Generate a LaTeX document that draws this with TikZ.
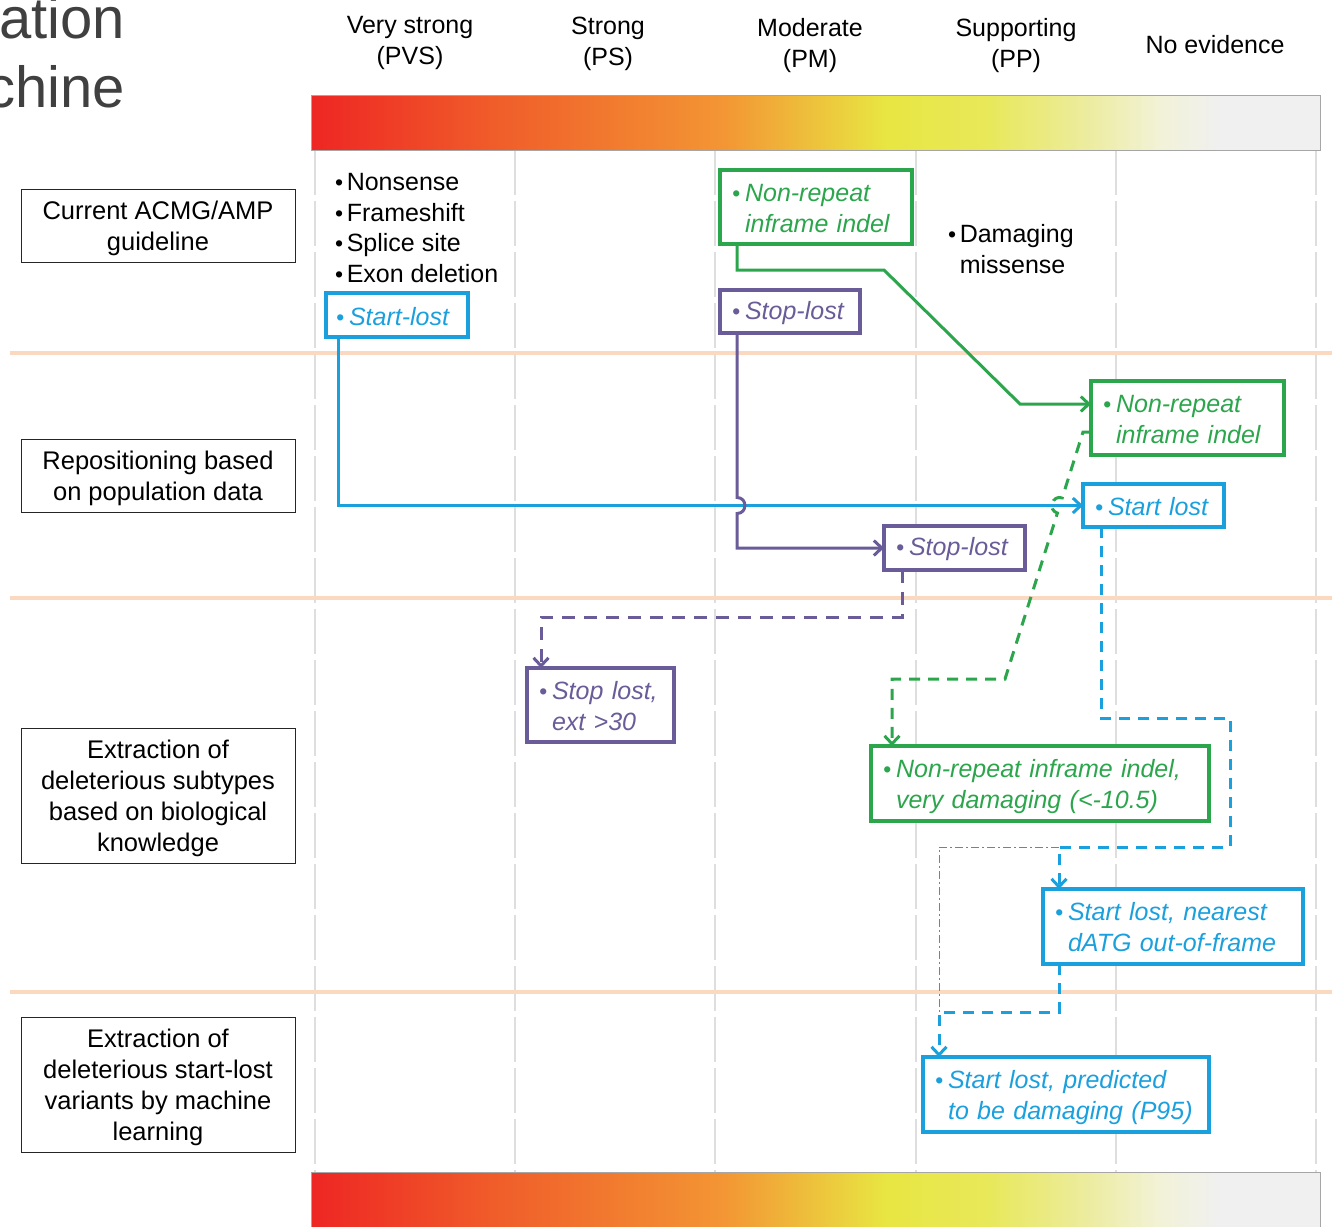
\documentclass[tikz,border=0pt]{standalone}
\usepackage{fontspec}
\setmainfont{Liberation Sans}
\usetikzlibrary{arrows.meta,calc}
\definecolor{cblue}{RGB}{27,160,222}
\definecolor{cgreen}{RGB}{44,166,76}
\definecolor{cpurple}{RGB}{106,92,152}
\definecolor{gridc}{RGB}{222,222,222}
\definecolor{sepc}{RGB}{251,216,192}
\definecolor{hr}{RGB}{238,38,36}
\definecolor{hoa}{RGB}{240,95,42}
\definecolor{hob}{RGB}{243,150,52}
\definecolor{hya}{RGB}{232,230,66}
\definecolor{hyb}{RGB}{232,232,90}
\definecolor{hyc}{RGB}{236,236,160}
\definecolor{hwa}{RGB}{242,242,215}
\definecolor{hw}{RGB}{240,240,240}
\pgfdeclarehorizontalshading{heat}{100bp}{color(0bp)=(hr); color(25bp)=(hr); color(34.5bp)=(hoa); color(45.5bp)=(hob); color(53.5bp)=(hya); color(58.5bp)=(hyb); color(63.5bp)=(hyc); color(67bp)=(hwa); color(70bp)=(hw); color(100bp)=(hw)}
\newcommand{\bul}{{\fontsize{23}{23}\selectfont\textbullet}\kern5pt}
\newcommand{\bk}{{\fontsize{23}{23}\selectfont\textbullet}\kern3.5pt}
\newcommand{\two}[2]{\raisebox{-3.5pt}[\height][\depth]{\begin{tabular}{@{}l@{}l@{}}\bul&#1\\&#2\end{tabular}}}
\newcommand{\one}[1]{\raisebox{-1.5pt}[\height][\depth]{\bul #1}}
\newcommand{\ctab}[1]{\raisebox{-3pt}[\height][\depth]{\begin{tabular}{@{}c@{}}#1\end{tabular}}}
\tikzset{
  cbox/.style={draw, fill=white, line width=3.5pt, outer sep=0pt, inner xsep=12pt, inner ysep=0pt, align=left, font=\fontsize{25}{31}\selectfont\itshape},
  lbox/.style={draw=black!85, line width=1pt, fill=white, outer sep=0pt, align=center, font=\fontsize{25.5}{31}\selectfont, inner sep=0pt, minimum width=274pt},
  hdr/.style={align=center, font=\fontsize{25}{31}\selectfont, inner sep=0pt},
  conn/.style={line width=3pt, -{Straight Barb[length=8pt,width=15pt]}},
  dsh/.style={dash pattern=on 11pt off 8pt},
  gridln/.style={gridc, line width=2pt, dash pattern=on 45pt off 6pt},
  sepln/.style={sepc, line width=4pt},
  ttl/.style={anchor=base east, font=\fontsize{58}{58}\selectfont, text=black!75, inner sep=0pt},
}
\begin{document}
\begin{tikzpicture}[x=1pt,y=-1pt]
\useasboundingbox (0,0) rectangle (1332,1226);
% background grid
\foreach \x in {315,515,715,916,1116,1316} \draw[gridln] (\x,150) -- (\x,1172);
\foreach \y in {353,598,992} \draw[sepln] (10,\y) -- (1332,\y);
% gradient bars
\shade[shading=heat] (311,95) rectangle (1320,150);
\draw[gray!70, line width=1pt] (311,95) rectangle (1320,150);
\shade[shading=heat] (311,1172) rectangle (1320,1232);
\draw[gray!70, line width=1pt] (311,1172) rectangle (1320,1232);
% title fragments
\node[ttl] (t1) at (125,38) {ation};
\node[ttl] (t2) at (125,107) {chine};
% headers
\node[hdr] (h1) at (410,43) {Very strong\\(PVS)};
\node[hdr] (h2) at (608,44) {Strong\\(PS)};
\node[hdr] (h3) at (810,45.5) {Moderate\\(PM)};
\node[hdr] (h4) at (1016,45.5) {Supporting\\(PP)};
\node[hdr] (h5) at (1215,45) {No evidence};
% left boxes
\node[lbox, minimum height=73pt] (r1) at (158,225.5) {\ctab{Current ACMG/AMP\\guideline}};
\node[lbox, minimum height=73pt] (r2) at (158,475.5) {\ctab{Repositioning based\\on population data}};
\node[lbox, minimum height=135pt] (r3) at (158,795.5) {\ctab{Extraction of\\deleterious subtypes\\based on biological\\knowledge}};
\node[lbox, minimum height=135pt] (r4) at (158,1084.5) {\ctab{Extraction of\\deleterious start-lost\\variants by machine\\learning}};
% plain lists
\node[anchor=west, align=left, font=\fontsize{25}{30.7}\selectfont, inner sep=0pt] (L1) at (335,228) {\bk Nonsense\\\bk Frameshift\\\bk Splice site\\\bk Exon deletion};
\node[anchor=west, align=left, font=\fontsize{25}{30.7}\selectfont, inner sep=0pt] (L2) at (948,249) {\bk Damaging\\\hphantom{\bk}missense};
% coloured boxes
\node[cbox, draw=cgreen, text=cgreen, text width=168pt, minimum height=74pt] (A) at (816,207) {\two{Non-repeat}{inframe indel}};
\node[cbox, draw=cblue, text=cblue, text width=122pt, minimum height=44pt, inner xsep=10pt] (B) at (397,315) {\one{Start-lost}};
\node[cbox, draw=cpurple, text=cpurple, text width=116pt, minimum height=43pt] (C) at (790,311.5) {\one{Stop-lost}};
\node[cbox, draw=cgreen, text=cgreen, text width=169pt, minimum height=74pt] (D) at (1187.5,418) {\two{Non-repeat}{inframe indel}};
\node[cbox, draw=cblue, text=cblue, text width=117pt, minimum height=43pt] (E) at (1153.5,505.5) {\one{Start lost}};
\node[cbox, draw=cpurple, text=cpurple, text width=117pt, minimum height=44pt] (F) at (954.5,548) {\one{Stop-lost}};
\node[cbox, draw=cpurple, text=cpurple, text width=123pt, minimum height=74pt] (G) at (600.5,705) {\two{Stop lost,}{ext >30}};
\node[cbox, draw=cgreen, text=cgreen, text width=314pt, minimum height=75pt] (H) at (1040,783.5) {\two{Non-repeat inframe indel,}{very damaging (<-10.5)}};
\node[cbox, draw=cblue, text=cblue, text width=236pt, minimum height=75pt] (I) at (1173,926.5) {\two{Start lost, nearest}{dATG out-of-frame}};
\node[cbox, draw=cblue, text=cblue, text width=262pt, minimum height=75pt] (J) at (1066,1094.5) {\two{Start lost, predicted}{to be damaging (P95)}};
% connectors
\draw[conn, cgreen] ([xshift=17pt]A.south west) -- (737,270) -- (884,270) -- (1020,404) -- ([yshift=14pt]D.west);
\draw[conn, cblue] ([xshift=12pt]B.south west) |- (E.west);
\draw[conn, cpurple] ([xshift=17pt]C.south west) -- (737,497.5) .. controls (747.6,497.5) and (747.6,513.5) .. (737,513.5) |- (F.west);
\draw[conn, cpurple, dash pattern=on 13pt off 9pt] ([xshift=18pt]F.south west) -- (902,617) -- (541,617) -- ([xshift=14pt]G.north west);
\draw[conn, cgreen, dsh] ([yshift=-14pt]D.west) -- (1083,432) -- (1062.2,497.9) .. controls (1052.1,494.7) and (1047.3,509.9) .. (1057.4,513.1) -- (1005,679) -- (892,679) -- ([xshift=21pt]H.north west);
\draw[conn, cblue, dsh] ([xshift=18pt]E.south west) -- (1101,718) -- (1230,718) -- (1230,847) -- (1059,847) -- ([xshift=16pt]I.north west);
\draw[conn, cblue, dsh] ([xshift=16pt]I.south west) -- (1059,1012) -- (939,1012) -- ([xshift=16pt]J.north west);
\coordinate (k1) at (1059,847);
\coordinate (k2) at (939,1012);
\draw[cblue, line width=1pt, dash pattern=on 8pt off 3pt on 2pt off 3pt] (k1) -| (k2);
\end{tikzpicture}
\end{document}
